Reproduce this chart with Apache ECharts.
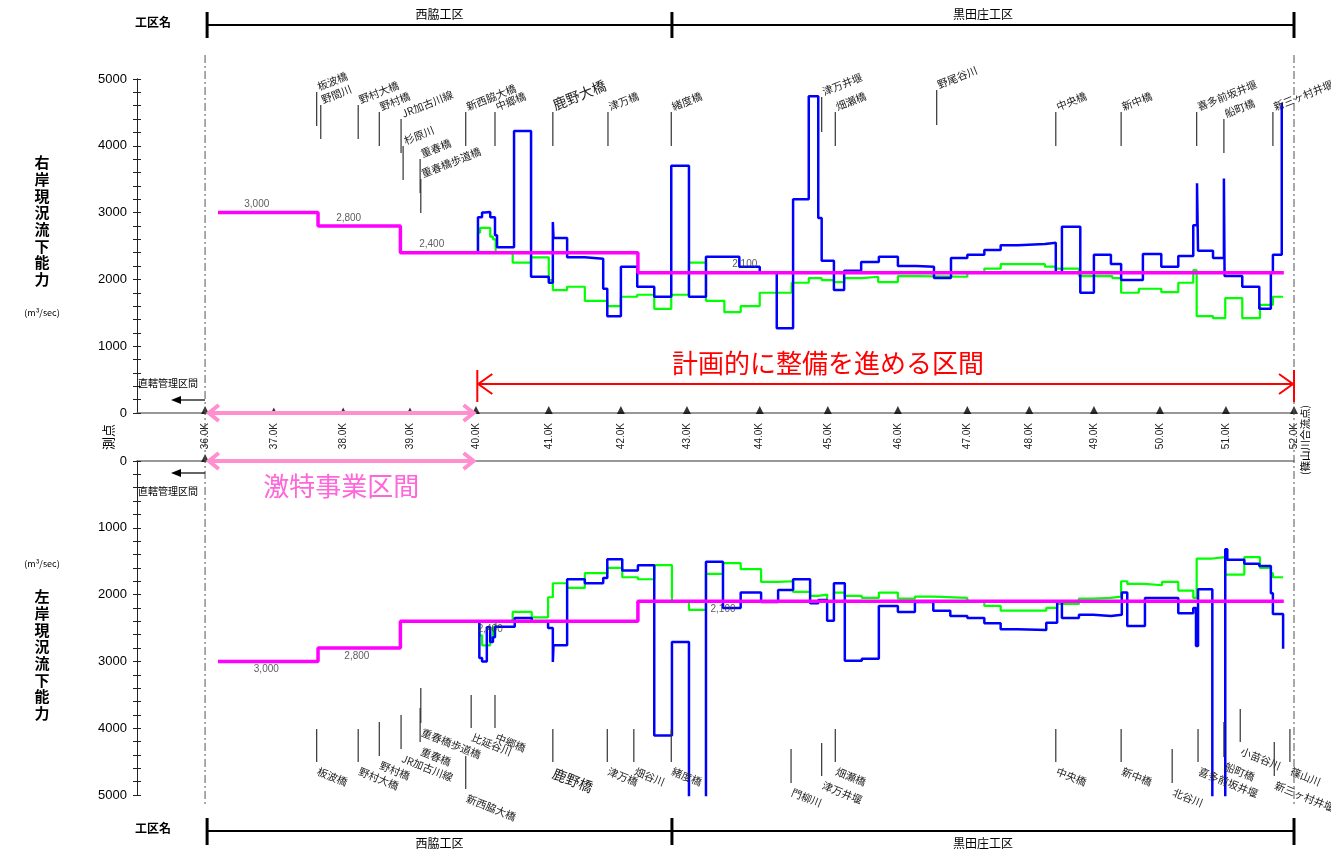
<!DOCTYPE html>
<html><head><meta charset="utf-8">
<script src="https://cdn.jsdelivr.net/npm/echarts@6/dist/echarts.min.js"></script>
<style>html,body{margin:0;padding:0;background:#fff}#c{width:1331px;height:853px}</style>
</head><body><div id="c"></div>
<script>
const FONT = '"Noto Sans CJK JP","Noto Sans",sans-serif';

// ---- stations (測点) ----
const stationLabels = ['36.0K','37.0K','38.0K','39.0K','40.0K','41.0K','42.0K','43.0K','44.0K','45.0K','46.0K','47.0K','48.0K','49.0K','50.0K','51.0K','52.0K'];
const stationKm = [36.00,37.01,38.03,39.01,39.98,41.05,42.11,43.08,44.15,45.15,46.18,47.20,48.11,49.06,50.03,51.00,52.00];

// ---- 計画流量 ----
const planEdges = [36.19, 37.66, 38.87, 42.36, 51.85];
const planValues = [3000, 2800, 2400, 2100];
const planLabelKmRight = [36.76, 38.11, 39.33, 43.93];
const planLabelKmLeft = [36.90, 38.23, 40.19, 43.61];

// ---- 右岸 (step points: [km, value from here]) ----
const rightBlue = [[40.01,2400],[40.01,2930],[40.07,3000],[40.11,3010],[40.19,2930],[40.26,2660],[40.29,2480],[40.54,4220],[40.79,2040],[41.05,1950],[41.11,2860],[41.12,2620],[41.32,2330],[41.58,2310],[41.85,1860],[41.91,1450],[42.11,2190],[42.35,1890],[42.60,1740],[42.85,3700],[43.11,1740],[43.36,2340],[43.85,2190],[44.15,2100],[44.40,1270],[44.64,3200],[44.87,4740],[45.01,2920],[45.06,2280],[45.24,1840],[45.39,2130],[45.64,2260],[45.90,2340],[46.18,2200],[46.45,2190],[46.71,2020],[46.96,2320],[47.20,2370],[47.45,2440],[47.69,2510],[47.94,2530],[48.34,2550],[48.50,2100],[48.59,2790],[48.86,1800],[49.06,2370],[49.31,2230],[49.46,1990],[49.78,2380],[50.05,2190],[50.30,2350],[50.52,2810],[50.575,3440],[50.59,2430],[50.81,2320],[50.97,3510],[50.98,2050],[51.24,1890],[51.49,1560],[51.66,2100],[51.69,2370],[51.82,4640]];
const rightGreen = [[40.01,2400],[40.01,2700],[40.04,2770],[40.19,2640],[40.23,2600],[40.27,2400],[40.52,2250],[40.79,2330],[41.05,1990],[41.11,1840],[41.32,1890],[41.58,1680],[41.91,1600],[42.11,1740],[42.35,1770],[42.60,1560],[42.85,1770],[43.11,2250],[43.36,1680],[43.63,1510],[43.87,1600],[44.15,1800],[44.62,1950],[44.87,2020],[45.06,1990],[45.24,1960],[45.39,2020],[45.65,2040],[45.89,1960],[46.18,2050],[46.45,2040],[47.20,2100],[47.45,2160],[47.69,2230],[48.34,2190],[48.50,2160],[48.84,2050],[49.33,2020],[49.46,1800],[49.72,1860],[50.05,1810],[50.30,1950],[50.52,2140],[50.57,1450],[50.81,1420],[50.99,1720],[51.24,1420],[51.50,1620],[51.69,1740],[51.84,1740]];

// ---- 左岸 ----
const leftBlue = [[40.03,2400],[40.03,2950],[40.07,3000],[40.14,2490],[40.19,2710],[40.23,2640],[40.26,2480],[40.55,2350],[40.80,2400],[41.04,2500],[41.11,3010],[41.12,2760],[41.32,1770],[41.58,1830],[41.85,1750],[41.91,1470],[42.13,1640],[42.36,1560],[42.60,4110],[42.86,2710],[43.11,5600],[43.36,1510],[43.61,2200],[43.87,1970],[44.17,2110],[44.42,1930],[44.64,1770],[44.89,2130],[45.01,2080],[45.14,2390],[45.24,1830],[45.40,2990],[45.65,2960],[45.90,2170],[46.18,2260],[46.43,2110],[46.70,2240],[46.95,2320],[47.20,2350],[47.45,2430],[47.69,2520],[47.94,2530],[48.36,2420],[48.52,2100],[48.59,2350],[48.84,2300],[49.05,2320],[49.31,2300],[49.47,1970],[49.55,2470],[49.81,2050],[50.30,2280],[50.52,2200],[50.56,2770],[50.59,1920],[50.80,5600],[50.99,1320],[51.02,1480],[51.27,1540],[51.49,1570],[51.66,1980],[51.69,2290],[51.84,2810]];
const leftGreen = [[40.03,2400],[40.03,2610],[40.07,2760],[40.19,2640],[40.23,2490],[40.27,2400],[40.52,2260],[40.80,2340],[41.04,2040],[41.11,1830],[41.32,1900],[41.58,1680],[41.91,1600],[42.13,1740],[42.36,1770],[42.60,1560],[42.86,2100],[43.11,2230],[43.36,1690],[43.61,1530],[43.87,1620],[44.17,1810],[44.42,1800],[44.64,1960],[44.89,2020],[45.01,2000],[45.14,2100],[45.24,1970],[45.40,2020],[45.65,2050],[45.90,1970],[46.18,2060],[46.43,2030],[46.70,2050],[47.20,2100],[47.45,2170],[47.69,2240],[48.36,2200],[48.52,2140],[48.84,2060],[49.05,2050],[49.31,2030],[49.46,1800],[49.55,1840],[49.81,1860],[50.06,1810],[50.30,1940],[50.52,2050],[50.57,1460],[50.80,1440],[50.99,1700],[51.27,1440],[51.50,1600],[51.66,1680],[51.69,1740],[51.84,1740]];

// ---- landmarks: [name, km, value at one end, value at other end] ----
const rightLandmarks = [['板波橋',37.64,4805,4296],['野間川',37.70,4611,4102],['野村大橋',38.25,4611,4102],['野村橋',38.56,4506,3997],['JR加古川線',38.88,4401,3892],['杉原川',38.91,3997,3488],['重春橋',39.16,3802,3293],['重春橋歩道橋',39.17,3503,2994],['新西脇大橋',39.83,4506,3997],['中郷橋',40.26,4506,3997],['鹿野大橋',41.11,4506,3997],['津万橋',41.92,4506,3997],['緒度橋',42.85,4506,3997],['津万井堰',45.06,4730,4206],['畑瀬橋',45.26,4506,3997],['野尾谷川',46.75,4835,4311],['中央橋',48.50,4506,3997],['新中橋',49.46,4506,3997],['喜多前坂井堰',50.57,4506,3997],['船町橋',50.97,4401,3892],['新三ヶ村井堰',51.69,4506,3997]];
const leftLandmarks = [['板波橋',37.64,4012,4506],['野村大橋',38.25,4012,4506],['野村橋',38.56,3907,4416],['JR加古川線',38.88,3802,4311],['重春橋',39.16,3697,4206],['重春橋歩道橋',39.17,3398,3922],['比延谷川',39.91,3503,3997],['中郷橋',40.26,3503,3997],['新西脇大橋',39.83,4416,4910],['鹿野橋',41.11,4012,4506],['津万橋',41.91,4012,4506],['畑谷川',42.30,4012,4506],['緒度橋',42.85,4012,4506],['門柳川',44.61,4311,4820],['津万井堰',45.06,4221,4716],['畑瀬橋',45.26,4012,4506],['中央橋',48.50,4012,4506],['新中橋',49.46,4012,4506],['北谷川',50.21,4311,4820],['喜多前坂井堰',50.59,4012,4506],['船町橋',50.97,3907,4431],['小苗谷川',51.21,3712,4206],['新三ヶ村井堰',51.71,4206,4716],['篠山川',51.94,4012,4506]];

// ---- sections / ranges ----
const sectionNames = ['西脇工区','黒田庄工区'];
const sectionBounds = [36.03, 42.86, 52.00];
const gekitokuRange = [36.04, 39.96];
const keikakuRange = [40.00, 52.00];
const chokkatsuStart = 36.00;

// ---------------- build ----------------
function planSteps() {
  const d = planValues.map((v,i)=>[planEdges[i], v]);
  d.push([planEdges[planEdges.length-1], planValues[planValues.length-1]]);
  return d;
}
function stepLine(data, xi, yi, color, width, z) {
  return {type:'line', xAxisIndex:xi, yAxisIndex:yi, data, step:'end', symbol:'none', clip:true,
    lineStyle:{color, width}, z, silent:true};
}
function landmarkSeries(list, xi, yi, top) {
  return {
    type:'custom', xAxisIndex:xi, yAxisIndex:yi, clip:false, silent:true, z:6,
    data: list.map(d=>[d[1], d[2], d[3]]),
    renderItem: (params, api) => {
      const d = list[params.dataIndex];
      const a = api.coord([api.value(0), api.value(1)]);
      const b = api.coord([api.value(0), api.value(2)]);
      const yMin = Math.min(a[1], b[1]), yMax = Math.max(a[1], b[1]);
      const big = d[0].indexOf('鹿野') === 0;
      return {type:'group', children:[
        {type:'line', shape:{x1:a[0], y1:a[1], x2:b[0], y2:b[1]}, style:{stroke:'#333', lineWidth:1.2}},
        {type:'text', x:a[0]+3, y: top ? yMin : yMax+4, rotation: top ? 0.38 : -0.38,
          style:{text:d[0], fontSize: big?14:10.5, fontFamily:FONT, fill:'#222', align:'left', verticalAlign: top?'bottom':'top'}}
      ]};
    }
  };
}
function yAxes(grid, inverse) {
  const base = {gridIndex:grid, type:'value', min:0, max:5000, interval:1000, inverse, position:'left',
    splitLine:{show:false},
    axisLine:{show:true, lineStyle:{color:'#222', width:1}},
    minorTick:{show:true, splitNumber:5, length:4, lineStyle:{color:'#222'}}};
  return [
    Object.assign({}, base, {axisTick:{show:true, length:4, inside:false, lineStyle:{color:'#222'}},
      axisLabel:{fontSize:13, color:'#000', margin:10, formatter: v => String(v), fontFamily:'Arial, "Liberation Sans", sans-serif'}}),
    Object.assign({}, base, {axisTick:{show:true, length:4, inside:true, lineStyle:{color:'#222'}},
      axisLabel:{show:false}})
  ];
}
function stationName(v) {
  let bi = 0, bd = 1e9;
  stationKm.forEach((k,i)=>{ const dd = Math.abs(k-v); if (dd<bd){bd=dd;bi=i;} });
  return stationLabels[bi];
}
const labelFmt = p => p.value[1].toLocaleString('en-US');

const option = {
  animation:false,
  backgroundColor:'#fff',
  grid:[{left:137, right:37, top:79, height:334}, {left:137, right:37, top:461, height:334}],
  xAxis:[
    {gridIndex:0, type:'value', min:35, max:52, position:'bottom',
      axisLine:{show:true, onZero:false, lineStyle:{color:'#777', width:1.5}}, axisTick:{show:false}, splitLine:{show:false},
      axisLabel:{customValues:stationKm, rotate:90, formatter:stationName, fontSize:10, color:'#222', margin:10, fontFamily:'Arial, "Liberation Sans", sans-serif'}},
    {gridIndex:1, type:'value', min:35, max:52, position:'top',
      axisLine:{show:true, onZero:false, lineStyle:{color:'#777', width:1.5}}, axisTick:{show:false}, splitLine:{show:false}, axisLabel:{show:false}}
  ],
  yAxis: yAxes(0,false).concat(yAxes(1,true)),
  series:[
    stepLine(rightGreen, 0, 0, '#00ff00', 2.2, 2),
    stepLine(rightBlue, 0, 0, '#0000ff', 2.5, 3),
    stepLine(planSteps(), 0, 0, '#ff00ff', 3.5, 4),
    stepLine(leftGreen, 1, 2, '#00ff00', 2.2, 2),
    stepLine(leftBlue, 1, 2, '#0000ff', 2.5, 3),
    stepLine(planSteps(), 1, 2, '#ff00ff', 3.5, 4),
    {type:'scatter', xAxisIndex:0, yAxisIndex:0, symbolSize:0, silent:true, z:5,
      data: planLabelKmRight.map((k,i)=>[k, planValues[i]]),
      label:{show:true, position:'top', distance:3, formatter:labelFmt, fontSize:10, color:'#333', fontFamily:'Arial, sans-serif'}},
    {type:'scatter', xAxisIndex:1, yAxisIndex:2, symbolSize:0, silent:true, z:5,
      data: planLabelKmLeft.map((k,i)=>[k, planValues[i]]),
      label:{show:true, position:'bottom', distance:3, formatter:labelFmt, fontSize:10, color:'#333', fontFamily:'Arial, sans-serif'}},
    {type:'scatter', xAxisIndex:0, yAxisIndex:0, symbol:'triangle', silent:true, z:7,
      symbolSize: v => (v[0] > 36.5 && v[0] < 39.5) ? 5 : 8, symbolOffset:[0,-3],
      itemStyle:{color:'#000'}, data: stationKm.map(k=>[k,0])},
    {type:'scatter', xAxisIndex:1, yAxisIndex:2, symbol:'triangle', silent:true, z:7,
      symbolSize:8, symbolOffset:[0,-3], itemStyle:{color:'#000'}, data:[[stationKm[0],0]]},
    landmarkSeries(rightLandmarks, 0, 0, true),
    landmarkSeries(leftLandmarks, 1, 2, false)
  ]
};

const chart = echarts.init(document.getElementById('c'));
chart.setOption(option);

// ---- annotations positioned through the x scale ----
const X = km => chart.convertToPixel({xAxisIndex:0}, km);
const g = [];
function L(x1,y1,x2,y2,stroke,w,dash){ g.push({type:'line', silent:true, z:10, shape:{x1,y1,x2,y2}, style:{stroke, lineWidth:w, lineDash:dash||null}}); }
function T(x,y,t,o){ o=o||{}; g.push({type:'text', silent:true, z:10, x, y, rotation:o.rotation||0,
  style:{text:t, fill:o.fill||'#000', fontSize:o.size||12, fontWeight:o.weight||'normal', fontFamily:o.family||FONT,
  align:o.align||'center', verticalAlign:o.va||'middle', lineHeight:o.lh}}); }
function P(points, stroke, w){ g.push({type:'polyline', silent:true, z:10, shape:{points}, style:{stroke, lineWidth:w, fill:null}}); }
function TRI(points, fill){ g.push({type:'polygon', silent:true, z:10, shape:{points}, style:{fill}}); }

// header / footer brackets
[[25,12,38,14,22],[831,818,845,843,828]].forEach(([ly,bt,bb,ty,ky])=>{
  L(X(sectionBounds[0]), ly, X(sectionBounds[sectionBounds.length-1]), ly, '#000', 2);
  sectionBounds.forEach(b=>L(X(b), bt, X(b), bb, '#000', 3));
  sectionNames.forEach((n,i)=>T((X(sectionBounds[i])+X(sectionBounds[i+1]))/2, ty, n, {size:12}));
  T(153, ky, '工区名', {size:12, weight:'bold'});
});
// dash-dot boundaries
[stationKm[0], stationKm[stationKm.length-1]].forEach(k=>L(X(k), 55, X(k), 805, '#555', 1, [8,3,2,3]));

// left titles
T(42, 221, '右\n岸\n現\n況\n流\n下\n能\n力', {size:15, weight:'bold', lh:16.7});
T(42, 313, '(m³/sec)', {size:9});
T(42, 564, '(m³/sec)', {size:9});
T(42, 655, '左\n岸\n現\n況\n流\n下\n能\n力', {size:15, weight:'bold', lh:16.7});
T(108, 437, '測点', {size:13, rotation:Math.PI/2});
T(1305, 440, '(篠山川合流点)', {size:10.5, rotation:Math.PI/2});

// 直轄管理区間
[[383,400],[491,473]].forEach(([ty,ay])=>{
  T(168, ty, '直轄管理区間', {size:10});
  L(X(chokkatsuStart), ay, 180, ay, '#000', 1.2);
  TRI([[171,ay],[181,ay-4],[181,ay+4]], '#000');
});

// 激特事業区間 (pink double arrows)
const pink = '#ff8fcf';
[413, 461].forEach(y=>{
  const a = X(gekitokuRange[0]), b = X(gekitokuRange[1]);
  L(a+2, y, b-2, y, pink, 4);
  P([[a+11,y-8],[a+1,y],[a+11,y+8]], pink, 4);
  P([[b-11,y-8],[b-1,y],[b-11,y+8]], pink, 4);
});
T((X(gekitokuRange[0])+X(gekitokuRange[1]))/2, 486, '激特事業区間', {size:26, fill:'#ff66d9'});

// 計画的に整備を進める区間 (red)
{
  const a = X(keikakuRange[0]), b = X(keikakuRange[1]), y = 384;
  L(a, y, b, y, '#ff0000', 2);
  P([[a+15,y-10],[a+1,y],[a+15,y+10]], '#ff0000', 2);
  P([[b-15,y-10],[b-1,y],[b-15,y+10]], '#ff0000', 2);
  L(a, 370, a, 402, '#ff0000', 2);
  L(b, 370, b, 402, '#ff0000', 2);
  T(828, 363, '計画的に整備を進める区間', {size:26, fill:'#ff0000'});
}

chart.setOption({graphic: g});
</script>
</body></html>
